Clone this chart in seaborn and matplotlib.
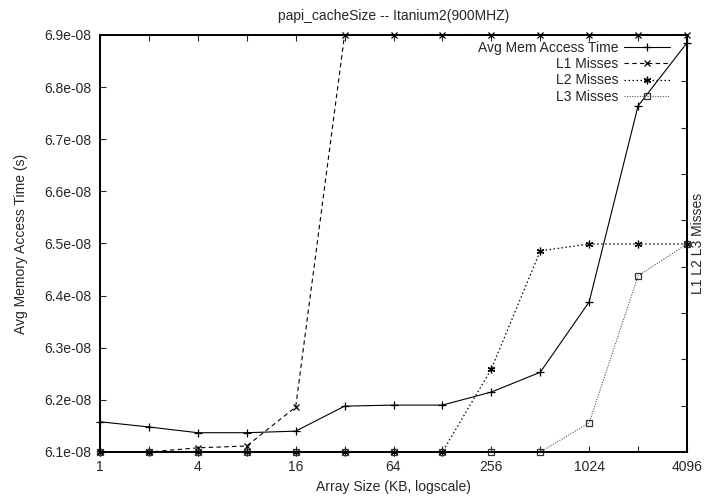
import numpy as np
import pandas as pd
import matplotlib
matplotlib.use('Agg')
import matplotlib.pyplot as plt
import seaborn as sns

# array sizes in KB (log2 axis)
sizes = [1, 2, 4, 8, 16, 32, 64, 128, 256, 512, 1024, 2048, 4096]

# avg memory access time (s)
avg_time = [6.158e-08, 6.148e-08, 6.137e-08, 6.137e-08, 6.140e-08, 6.188e-08, 6.190e-08,
            6.190e-08, 6.215e-08, 6.253e-08, 6.388e-08, 6.764e-08, 6.885e-08]

# cache misses (right axis, arbitrary units)
l1_misses = [0.0, 0.0, 0.09, 0.13, 0.97, 9.0, 9.0, 9.0, 9.0, 9.0, 9.0, 9.0, 9.0]
l2_misses = [0.0, 0.0, 0.0, 0.0, 0.0, 0.0, 0.0, 0.0, 1.79, 4.34, 4.49, 4.49, 4.49]
l3_misses = [0.0, 0.0, 0.0, 0.0, 0.0, 0.0, 0.0, 0.0, 0.0, 0.0, 0.63, 3.80, 4.49]

x_labels = {1: '1', 4: '4', 16: '16', 64: '64', 256: '256', 1024: '1024', 4096: '4096'}
y_ticks = [6.1e-08, 6.2e-08, 6.3e-08, 6.4e-08, 6.5e-08, 6.6e-08, 6.7e-08, 6.8e-08, 6.9e-08]

sns.set_style('ticks')
plt.rcParams['font.family'] = ['Liberation Sans', 'DejaVu Sans']
plt.rcParams['font.size'] = 10

df = pd.DataFrame({'size': sizes, 'avg': avg_time, 'l1': l1_misses,
                   'l2': l2_misses, 'l3': l3_misses})

fig = plt.figure(figsize=(7.04, 4.96), dpi=100)
ax = fig.add_axes([100 / 704, 1 - 452 / 496, 587 / 704, 417 / 496])
ax2 = ax.twinx()

sns.lineplot(data=df, x='size', y='avg', ax=ax, color='black', lw=0.8,
             marker='+', markersize=5.5, mew=0.9, mec='black',
             label='Avg Mem Access Time', legend=False, clip_on=False, zorder=5)
sns.lineplot(data=df, x='size', y='l1', ax=ax2, color='black', lw=0.8,
             linestyle=(0, (4, 3)), marker='x', markersize=4, mew=0.9, mec='black',
             label='L1 Misses', legend=False, clip_on=False)
sns.lineplot(data=df, x='size', y='l2', ax=ax2, color='black', lw=0.9,
             linestyle=(0, (1.2, 2)), marker=(6, 2, 0), markersize=5.5, mew=0.9,
             mec='black', label='L2 Misses', legend=False, clip_on=False)
sns.lineplot(data=df, x='size', y='l3', ax=ax2, color='#555555', lw=0.8,
             linestyle=(0, (1, 1.3)), marker='s', markersize=4.5, mew=0.9,
             mfc='none', mec='#333333', label='L3 Misses', legend=False, clip_on=False)

ax.set_xscale('log', base=2)
ax.set_xlim(1, 4096)
ax.set_xticks(sizes)
ax.set_xticklabels([x_labels.get(s, '') for s in sizes])
ax.minorticks_off()
ax.set_ylim(6.1e-08, 6.9e-08)
ax.set_yticks(y_ticks)
ax.set_yticklabels(['%.1e' % v for v in y_ticks])
ax2.set_ylim(0, 9)
ax2.set_yticks([1, 2, 3, 4, 5, 6, 7, 8])
ax2.set_yticklabels([])

ax.tick_params(axis='x', direction='in', length=4, width=0.8, top=True, pad=6, labelsize=10)
ax.tick_params(axis='y', direction='in', length=4, width=0.8, right=False, pad=6, labelsize=10)
ax2.tick_params(axis='y', direction='in', length=4, width=0.8, pad=6)
for a in (ax, ax2):
    for sp in a.spines.values():
        sp.set_linewidth(1.3)
        sp.set_color('black')

ax.set_xlabel('Array Size (KB, logscale)', fontsize=10, labelpad=4)
ax.set_ylabel('Avg Memory Access Time (s)', fontsize=10, labelpad=12)
ax2.set_ylabel('L1 L2 L3 Misses', fontsize=10)
ax2.yaxis.set_label_coords(1.006, 0.5)
ax.set_title('papi_cacheSize -- Itanium2(900MHZ)', fontsize=10, pad=11)

h1, l1 = ax.get_legend_handles_labels()
h2, l2 = ax2.get_legend_handles_labels()
ax2.legend(h1 + h2, l1 + l2, loc='upper right', bbox_to_anchor=(0.971, 0.985),
           frameon=False, markerfirst=False, handlelength=3.3, handletextpad=0.4,
           labelspacing=0.15, borderpad=0, borderaxespad=0, fontsize=10)

fig.savefig('out.png', dpi=100)
